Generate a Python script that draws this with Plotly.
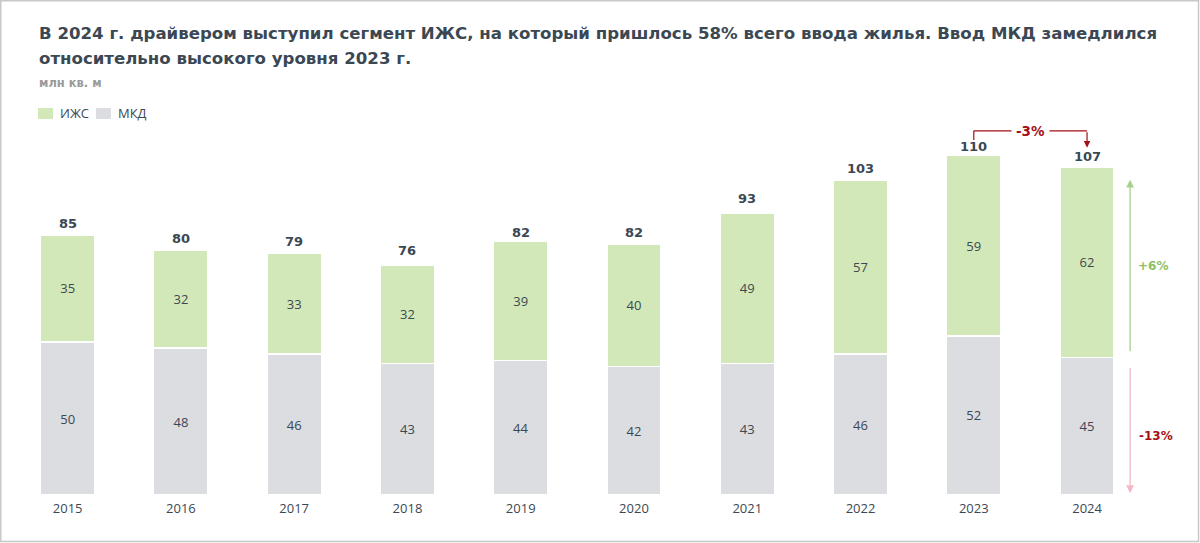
import plotly.graph_objects as go

years = ["2015", "2016", "2017", "2018", "2019", "2020", "2021", "2022", "2023", "2024"]
izhs = [35, 32, 33, 32, 39, 40, 49, 57, 59, 62]
mkd = [50, 48, 46, 43, 44, 42, 43, 46, 52, 45]
totals = [85, 80, 79, 76, 82, 82, 93, 103, 110, 107]
series_names = ["ИЖС", "МКД"]
chg_total = "-3%"
chg_izhs = "+6%"
chg_mkd = "-13%"
title_lines = ["В 2024 г. драйвером выступил сегмент ИЖС, на который пришлось 58% всего ввода жилья. Ввод МКД замедлился",
               "относительно высокого уровня 2023 г."]
unit = "млн кв. м"

GREEN = "#d3e8b8"
GREY = "#dcdde0"
DARK = "#3b4853"
RED = "#a50f15"
ARROW_GREEN = "#a9d18e"
ARROW_PINK = "#f4b8c4"

W, H = 1200, 543
ML, MR, MT, MB = 11, 11, 120, 48
PW, PH = W - ML - MR, H - MT - MB


def px_x(p):
    return (p - ML) / PW


def px_y(p):
    return (H - MB - p) / PH


xs = list(range(len(years)))
fig = go.Figure()
fig.add_trace(go.Bar(
    x=xs, y=mkd, name=series_names[1], marker=dict(color=GREY, line=dict(color="white", width=1.5)),
    width=0.48, text=[str(v) for v in mkd], textposition="inside", insidetextanchor="middle",
    textfont=dict(family="Open Sans", size=13, color=DARK), hoverinfo="skip",
))
fig.add_trace(go.Bar(
    x=xs, y=izhs, name=series_names[0], marker=dict(color=GREEN, line=dict(color="white", width=1.5)),
    width=0.48, text=[str(v) for v in izhs], textposition="inside", insidetextanchor="middle",
    textfont=dict(family="Open Sans", size=13, color=DARK), hoverinfo="skip",
))
for xi, t in zip(xs, totals):
    fig.add_annotation(x=xi, y=t, yanchor="bottom", yshift=2, showarrow=False, text="<b>%d</b>" % t,
                       font=dict(family="DejaVu Sans", size=13, color=DARK))

i23, i24 = len(years) - 2, len(years) - 1
top_y = max(totals[i23], totals[i24]) + 9
# -3% bracket
fig.add_shape(type="line", x0=i23, x1=i23, y0=totals[i23] + 6, y1=top_y, line=dict(color=RED, width=1.2))
fig.add_shape(type="line", x0=i23, x1=i24, y0=top_y, y1=top_y, line=dict(color=RED, width=1.2))
fig.add_annotation(x=i24, y=totals[i24] + 6.5, ax=i24, ay=top_y, axref="x", ayref="y", xref="x", yref="y",
                   showarrow=True, arrowhead=2, arrowsize=1.1, arrowwidth=1.2, arrowcolor=RED, text="")
fig.add_annotation(x=(i23 + i24) / 2, y=top_y, text="<b>" + chg_total + "</b>", showarrow=False,
                   bgcolor="white", font=dict(family="DejaVu Sans", size=13.5, color=RED), borderpad=4)

# side arrows
xa = i24 + 0.38
fig.add_annotation(x=xa, y=totals[i24] - 4, ax=xa, ay=mkd[i24] + 1.5, axref="x", ayref="y", xref="x", yref="y",
                   showarrow=True, arrowhead=2, arrowsize=1.2, arrowwidth=1.3, arrowcolor=ARROW_GREEN, text="")
fig.add_annotation(x=xa + 0.05, y=(totals[i24] + mkd[i24]) / 2 - 1, text="<b>" + chg_izhs + "</b>", showarrow=False,
                   xanchor="left", font=dict(family="DejaVu Sans", size=12, color="#8cc063"))
fig.add_annotation(x=xa, y=0.6, ax=xa, ay=mkd[i24] - 3, axref="x", ayref="y", xref="x", yref="y",
                   showarrow=True, arrowhead=2, arrowsize=1.2, arrowwidth=1.3, arrowcolor=ARROW_PINK, text="")
fig.add_annotation(x=xa + 0.06, y=mkd[i24] * 0.43, text="<b>" + chg_mkd + "</b>", showarrow=False,
                   xanchor="left", font=dict(family="DejaVu Sans", size=12, color=RED))

# title & subtitle
for line, ypix in zip(title_lines, [33, 58]):
    fig.add_annotation(xref="paper", yref="paper", x=px_x(37), y=px_y(ypix), xanchor="left", yanchor="middle",
                       showarrow=False, text="<b>" + line + "</b>",
                       font=dict(family="DejaVu Sans", size=16.6, color=DARK))
fig.add_annotation(xref="paper", yref="paper", x=px_x(37), y=px_y(83), xanchor="left", yanchor="middle",
                   showarrow=False, text="<b>" + unit + "</b>", font=dict(family="DejaVu Sans", size=11.5, color="#9a9a9a"))

# legend (manual)
leg = [(series_names[0], GREEN, 38), (series_names[1], GREY, 96)]
for name, col, x0 in leg:
    fig.add_shape(type="rect", xref="paper", yref="paper", x0=px_x(x0), x1=px_x(x0 + 15),
                  y0=px_y(119), y1=px_y(108), fillcolor=col, line=dict(width=0))
    fig.add_annotation(xref="paper", yref="paper", x=px_x(x0 + 20), y=px_y(113.5), xanchor="left", yanchor="middle",
                       showarrow=False, text=name, font=dict(family="Open Sans", size=13, color=DARK))

# border
fig.add_shape(type="rect", xref="paper", yref="paper", x0=px_x(0.75), x1=px_x(W - 1.5),
              y0=px_y(H - 1.5), y1=px_y(0.75), line=dict(color="#c8c8c8", width=1.5))

fig.update_layout(
    width=W, height=H, margin=dict(l=ML, r=MR, t=MT, b=MB),
    barmode="stack", plot_bgcolor="white", paper_bgcolor="white",
    showlegend=False,
    xaxis=dict(range=[-0.5, 9.9], tickmode="array", tickvals=xs, ticktext=years, showgrid=False, zeroline=False,
               showline=False, ticks="", ticklabelstandoff=4,
               tickfont=dict(family="Open Sans", size=13, color=DARK), fixedrange=True),
    yaxis=dict(range=[0, PH / 3.06], visible=False, showgrid=False, zeroline=False, fixedrange=True),
)
fig.write_html("out.html", config={"displayModeBar": False},
               post_script="document.body.style.margin='0';document.body.style.overflow='hidden';")
